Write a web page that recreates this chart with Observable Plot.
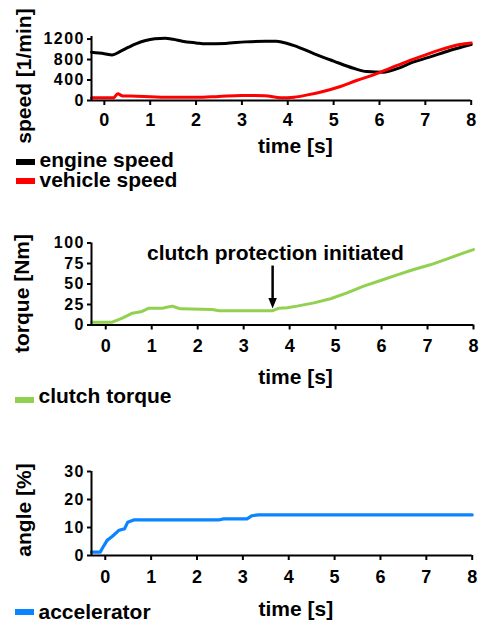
<!DOCTYPE html>
<html><head><meta charset="utf-8">
<script src="https://cdn.jsdelivr.net/npm/d3@7"></script>
<script src="https://cdn.jsdelivr.net/npm/@observablehq/plot@0.6"></script>
<style>
body{margin:0;background:#fff;}
#wrap{position:relative;width:481px;height:624px;overflow:hidden;font-family:"Liberation Sans",Arial,sans-serif;font-weight:bold;}
.panel{position:absolute;left:0;}
.sw{position:absolute;height:6px;width:19px;}
.lt{position:absolute;font-size:21px;line-height:19.7px;white-space:nowrap;color:#000;}
g[aria-label="y-axis tick label"] text{letter-spacing:1.5px;}
</style></head>
<body><div id="wrap"></div>
<script>
// ---- data ----
const xTicks = [0, 1, 2, 3, 4, 5, 6, 7, 8];
const xTitle = "time [s]";

const speedLabel = "speed [1/min]";
const speedTicks = [0, 400, 800, 1200];
const engineT = [-0.28, 0.0, 0.17, 0.35, 0.53, 0.7, 0.9, 1.1, 1.33, 1.5, 1.7, 2.0, 2.21, 2.64, 3.08, 3.52, 3.75, 3.88, 4.14, 4.58, 5.0, 5.43, 5.72, 6.09, 6.37, 6.73, 7.09, 7.53, 8.0];
const engineV = [943, 915, 891, 960, 1041, 1110, 1171, 1205, 1216, 1195, 1158, 1125, 1106, 1115, 1145, 1158, 1155, 1138, 1073, 911, 770, 631, 566, 553, 618, 748, 846, 976, 1093];
const vehicleT = [-0.28, 0.2, 0.29, 0.4, 0.7, 1.0, 1.5, 2.0, 2.5, 3.0, 3.5, 3.85, 4.14, 4.43, 4.79, 5.15, 5.5, 5.87, 6.24, 6.6, 6.96, 7.32, 7.75, 8.0];
const vehicleV = [52, 52, 130, 90, 85, 75, 62, 62, 80, 98, 95, 52, 65, 110, 182, 273, 390, 501, 631, 761, 878, 989, 1093, 1125];

const torqueLabel = "torque [Nm]";
const torqueTicks = [0, 25, 50, 75, 100];
const torqueT = [-0.31, 0.14, 0.36, 0.58, 0.79, 0.94, 1.23, 1.35, 1.45, 1.55, 1.63, 2.32, 2.46, 3.62, 3.77, 3.95, 4.16, 4.53, 4.89, 5.25, 5.61, 5.98, 6.34, 6.70, 7.06, 7.43, 7.79, 8.0];
const torqueV = [3.5, 3.5, 8.3, 14.4, 16.5, 20.5, 20.5, 22, 23, 21, 19.7, 18.9, 17.3, 17.3, 20.5, 21, 23, 27, 32, 39.2, 47.4, 54.3, 61.2, 67.7, 73.4, 80.7, 88, 92];
const annText = "clutch protection initiated";
const annTextT = 3.69, annTextV = 78.7;
const arrowT = 3.63, arrowFrom = 72.5, arrowTo = 20, arrowShaftEnd = 27;

const angleLabel = "angle [%]";
const angleTicks = [0, 10, 20, 30];
const accelT = [-0.3, -0.11, -0.07, 0.04, 0.15, 0.29, 0.36, 0.42, 0.49, 0.62, 2.47, 2.58, 3.09, 3.2, 3.34, 8.0];
const accelV = [1.2, 1.2, 2.4, 5.4, 6.8, 8.9, 9.3, 9.5, 11.9, 12.7, 12.7, 13.1, 13.1, 14.2, 14.5, 14.5];

const seriesColors = {engine: "#000000", vehicle: "#ff0000", torque: "#92d050", accel: "#0a84ff"};

// ---- helpers ----
const zip = (t, v) => t.map((d, i) => ({t: d, v: v[i]}));
const FONT = "Liberation Sans, Arial, sans-serif";

function panel(o) {
  const svg = Plot.plot({
    width: 481, height: o.height,
    marginLeft: 91, marginRight: o.marginRight, marginTop: o.marginTop, marginBottom: o.marginBottom,
    x: {domain: o.xDomain},
    y: {domain: o.yDomain},
    style: {fontFamily: FONT, fontWeight: "bold", color: "#000", background: "transparent", overflow: "visible"},
    marks: [
      Plot.axisX({ticks: xTicks, tickSize: 5, tickPadding: o.tickPadX, fontSize: 18, strokeWidth: 2, label: null, tickFormat: d => String(d)}),
      Plot.axisY({ticks: o.yTicks, tickSize: 4, tickPadding: 2.5, fontSize: 16, strokeWidth: 2, label: null, tickFormat: d => String(d)}),
      ...o.marks,
      Plot.ruleY([o.yDomain[0]], {strokeWidth: 2}),
      Plot.ruleX([o.xDomain[0]], {strokeWidth: 2}),
      Plot.text([xTitle], {frameAnchor: "bottom", textAnchor: "middle", dx: o.titleDx, dy: o.titleDy, lineAnchor: "bottom", fontSize: 21}),
      Plot.text([o.yLabel], {frameAnchor: "left", textAnchor: "middle", lineAnchor: "middle", rotate: -90, dx: o.yLabelDx, dy: o.yLabelDy, fontSize: 21})
    ]
  });
  svg.classList.add("panel");
  svg.style.top = o.top + "px";
  return svg;
}

const wrap = document.getElementById("wrap");

wrap.appendChild(panel({
  top: 0, height: 156, marginTop: 36, marginBottom: 56, marginRight: 10.3,
  xDomain: [-0.28, 8], yDomain: [0, 1250], yTicks: speedTicks, tickPadX: 8,
  titleDx: 14, titleDy: 52, yLabel: speedLabel, yLabelDx: -67.5, yLabelDy: 7.5,
  marks: [
    Plot.line(zip(engineT, engineV), {x: "t", y: "v", stroke: seriesColors.engine, strokeWidth: 3, curve: "monotone-x"}),
    Plot.line(zip(vehicleT, vehicleV), {x: "t", y: "v", stroke: seriesColors.vehicle, strokeWidth: 3, curve: "monotone-x"})
  ]
}));

const triDown = {draw(ctx, size) { const h = Math.sqrt(size) * 1.2, w = h * 0.4; ctx.moveTo(0, h / 2); ctx.lineTo(-w, -h / 2); ctx.lineTo(w, -h / 2); ctx.closePath(); }};

wrap.appendChild(panel({
  top: 200, height: 190, marginTop: 42.5, marginBottom: 65.5, marginRight: 8,
  xDomain: [-0.31, 8], yDomain: [0, 100], yTicks: torqueTicks, tickPadX: 9,
  titleDx: 13, titleDy: 58.5, yLabel: torqueLabel, yLabelDx: -69, yLabelDy: 9.5,
  marks: [
    Plot.line(zip(torqueT, torqueV), {x: "t", y: "v", stroke: seriesColors.torque, strokeWidth: 3}),
    Plot.link([{t: arrowT}], {x1: "t", x2: "t", y1: () => arrowFrom, y2: () => arrowShaftEnd, stroke: "#000", strokeWidth: 2.5}),
    Plot.dot([{t: arrowT, v: arrowTo}], {x: "t", y: "v", symbol: triDown, r: 5, fill: "#000", stroke: "none", dy: -5.3}),
    Plot.text([{t: annTextT, v: annTextV, s: annText}], {x: "t", y: "v", text: "s", lineAnchor: "bottom", fontSize: 21})
  ]
}));

wrap.appendChild(panel({
  top: 420, height: 204, marginTop: 51, marginBottom: 69, marginRight: 9.3,
  xDomain: [-0.3, 8], yDomain: [0, 30], yTicks: angleTicks, tickPadX: 10,
  titleDx: 14, titleDy: 60, yLabel: angleLabel, yLabelDx: -67.5, yLabelDy: -3.5,
  marks: [
    Plot.line(zip(accelT, accelV), {x: "t", y: "v", stroke: seriesColors.accel, strokeWidth: 3.2})
  ]
}));

// ---- legends (one text block per legend) ----
const legends = [
  {items: [["engine speed", seriesColors.engine, 159], ["vehicle speed", seriesColors.vehicle, 178.3]], left: 16, textTop: 149.9},
  {items: [["clutch torque", seriesColors.torque, 396.7]], left: 15, textTop: 386.2},
  {items: [["accelerator", seriesColors.accel, 609.3]], left: 15, textTop: 602.2}
];
for (const l of legends) {
  for (const [, color, swTop] of l.items) {
    const sw = document.createElement("div");
    sw.className = "sw";
    sw.style.left = l.left + "px"; sw.style.top = swTop + "px"; sw.style.background = color;
    wrap.appendChild(sw);
  }
  const tx = document.createElement("div");
  tx.className = "lt";
  tx.style.left = (l.left + 23.5) + "px"; tx.style.top = l.textTop + "px";
  l.items.forEach(([label], i) => {
    if (i) tx.appendChild(document.createElement("br"));
    tx.appendChild(document.createTextNode(label));
  });
  wrap.appendChild(tx);
}
</script>
</body></html>
